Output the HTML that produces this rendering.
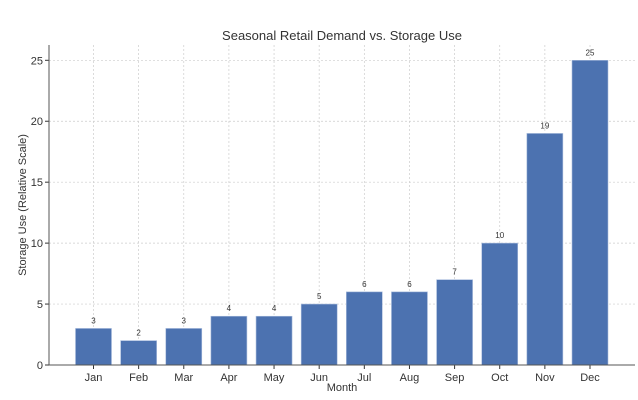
<!DOCTYPE html>
<html><head><meta charset="utf-8"><style>
body{margin:0;background:#fff;}
svg{display:block;font-family:"Liberation Sans","DejaVu Sans",sans-serif;}
</style></head><body>
<svg id="chart" width="638" height="400">
<text x="342" y="40" text-anchor="middle" font-size="13" fill="#333">Seasonal Retail Demand vs. Storage Use</text>
<text x="342" y="391" text-anchor="middle" font-size="11" fill="#333">Month</text>
<text transform="translate(26,205) rotate(-90)" text-anchor="middle" font-size="11" fill="#333">Storage Use (Relative Scale)</text>
<g id="grid"></g><g id="bars"></g><g id="axes"></g>
</svg>
<script>
const categories=["Jan","Feb","Mar","Apr","May","Jun","Jul","Aug","Sep","Oct","Nov","Dec"];
const values=[3,2,3,4,4,5,6,6,7,10,19,25];
const yTicks=[0,5,10,15,20,25];
const NS="http://www.w3.org/2000/svg";
const x0=49,x1=635,yTop=45,yBot=365;
function y(v){return 365-v*(365-60.3)/25;}
function xc(i){return 93.5+i*(590-93.5)/11;}
function mk(tag,attrs,parent,txt){const e=document.createElementNS(NS,tag);for(const k in attrs)e.setAttribute(k,attrs[k]);if(txt!==undefined)e.textContent=txt;document.getElementById(parent).appendChild(e);return e;}
yTicks.forEach(t=>{
 const g=mk("line",{x1:x0,x2:x1,y1:y(t),y2:y(t),stroke:"#ccc","stroke-width":0.7,"stroke-dasharray":"2,2"},"grid");
 
 
 const tk=mk("line",{x1:x0-4,x2:x0,y1:y(t),y2:y(t),stroke:"#333"},"axes");
 
 
 const l=mk("text",{x:x0-6,y:y(t)+4,"text-anchor":"end","font-size":11,fill:"#333"},"axes",t);
 
 
});
categories.forEach((c,i)=>{
 const g=mk("line",{x1:xc(i),x2:xc(i),y1:yTop,y2:yBot,stroke:"#ccc","stroke-width":0.7,"stroke-dasharray":"2,2"},"grid");
 
 
 const b=mk("rect",{x:xc(i)-18,y:y(values[i]),width:36,height:y(0)-y(values[i]),fill:"#4c72b0",stroke:"#a9bcdc","stroke-width":0.6},"bars");
 
 
 const v=mk("text",{x:xc(i),y:y(values[i])-5,"text-anchor":"middle","font-size":8,fill:"#333"},"bars",values[i]);
 
 
 const tk=mk("line",{x1:xc(i),x2:xc(i),y1:yBot,y2:yBot+4,stroke:"#333"},"axes");
 
 
 const l=mk("text",{x:xc(i),y:yBot+16,"text-anchor":"middle","font-size":11,fill:"#333"},"axes",c);
 
 
});
const ax=mk("line",{x1:x0,x2:x0,y1:yTop,y2:yBot,stroke:"#555","stroke-width":1},"axes");


const bx=mk("line",{x1:x0,x2:x1,y1:yBot,y2:yBot,stroke:"#555","stroke-width":1},"axes");


</script>
</body></html>
